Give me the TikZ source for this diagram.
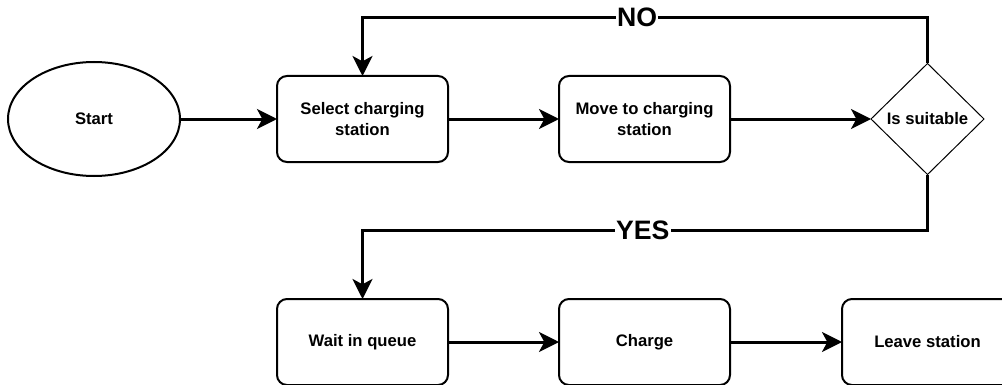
\documentclass[tikz,border=0pt]{standalone}
\usepackage{fontspec}
\setmainfont{Liberation Sans}
\usetikzlibrary{arrows.meta,positioning,shapes.geometric}

\begin{document}
\begin{tikzpicture}[
  node distance=83.25pt,
  every node/.style={outer sep=0pt},
  font=\bfseries\fontsize{12.5}{15.5}\selectfont,
  stepbox/.style={draw,line width=1.5pt,rounded corners=7.5pt,align=center,
                  minimum width=128.25pt,minimum height=64.5pt},
  flow/.style={-{Stealth[length=15pt,width=15pt,inset=4pt]},line width=2.25pt},
  answer/.style={fill=white,inner sep=1pt,font=\bfseries\fontsize{20}{24}\selectfont}
]
\useasboundingbox (0,0) rectangle (751.5pt,-288.75pt);
\node[draw,ellipse,line width=1.5pt,minimum width=129pt,minimum height=85.5pt]
      (start) at (70.5pt,-89.25pt) {Start};
\node[stepbox,right=72.75pt of start] (select) {Select charging\\station};
\node[stepbox,right=of select]        (move)   {Move to charging\\station};
\node[draw,diamond,line width=0.75pt,inner sep=0pt,
      minimum width=84.75pt,minimum height=83.25pt,right=105.75pt of move] (suit) {Is suitable};
\node[stepbox,below=102.75pt of select] (wait)   {Wait in queue};
\node[stepbox,right=of wait]            (charge) {Charge};
\node[stepbox,right=84pt of charge]     (leave)  {Leave station};
\draw[flow] (start)  -- (select);
\draw[flow] (select) -- (move);
\draw[flow] (move)   -- (suit);
\draw[flow] (suit.north) -- ++(0,34.5pt) -| node[answer,pos=0.257] {NO} (select.north);
\draw[flow] (suit.south) -- ++(0,-42pt) -| node[answer,pos=0.252] {YES} (wait.north);
\draw[flow] (wait)   -- (charge);
\draw[flow] (charge) -- (leave);
\end{tikzpicture}
\end{document}
